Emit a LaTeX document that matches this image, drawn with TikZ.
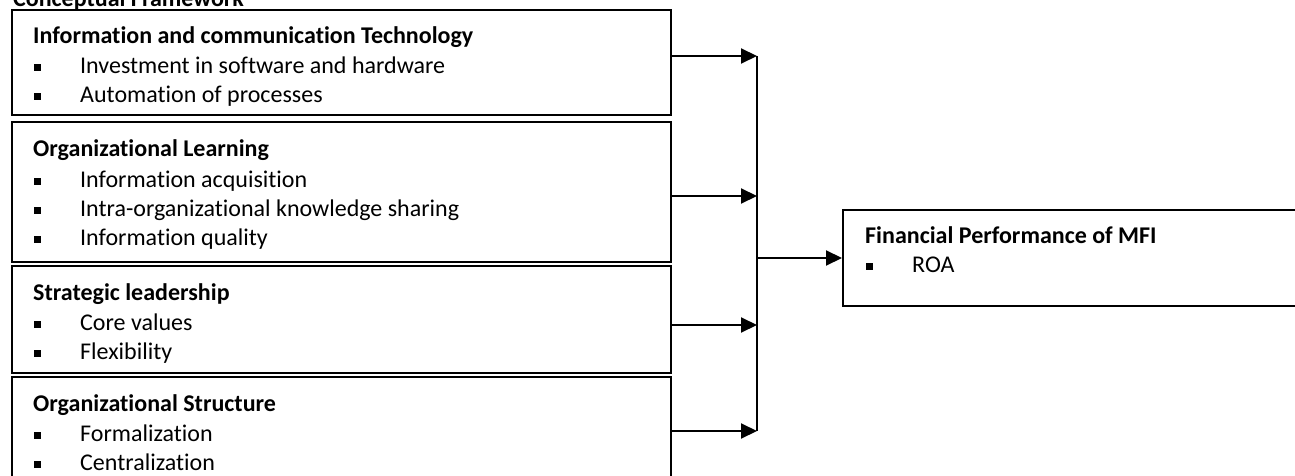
\documentclass[tikz,border=0pt]{standalone}
\usepackage{fontspec}
\setmainfont[Ligatures={NoCommon,NoContextual}]{Carlito}
\usetikzlibrary{arrows.meta}
\newcommand{\bul}{\makebox[46pt][l]{\rule[2.5pt]{7pt}{7pt}}}
\begin{document}
\begin{tikzpicture}[x=1pt,y=-1pt,
  box/.style={draw,line width=2pt,rectangle,inner sep=0pt},
  ttl/.style={anchor=base west,inner sep=0pt,font=\fontsize{24}{29}\selectfont\bfseries},
  itm/.style={anchor=base west,inner sep=0pt,font=\fontsize{24}{29}\selectfont},
  arr/.style={line width=2pt,-{Triangle[length=16pt,width=15pt]}},
  bus/.style={line width=1.6pt}]
\useasboundingbox (0,0) rectangle (1295,476);
\clip (0,0) rectangle (1295,476);
\fill[white] (0,0) rectangle (1295,476);

% header (cut off at top)
\node[ttl] (hdr) at (13,7) {Conceptual Framework};

% boxes
\node[box,minimum width=659pt,minimum height=105pt] (b1) at (341.5,62.5) {};
\node[box,minimum width=659pt,minimum height=140pt] (b2) at (341.5,192) {};
\node[box,minimum width=659pt,minimum height=107pt] (b3) at (341.5,319.5) {};
\node[box,minimum width=659pt,minimum height=133pt] (b4) at (341.5,443.5) {};
\node[box,minimum width=487pt,minimum height=96pt] (r) at (1086.5,258) {};

% box 1
\node[ttl] (t1) at (33,44) {Information and communication Technology};
\node[itm] (i11) at (34,74) {\bul Investment in software and hardware};
\node[itm] (i12) at (34,103) {\bul Automation of processes};
% box 2
\node[ttl] (t2) at (33,157) {Organizational Learning};
\node[itm] (i21) at (34,187) {\bul Information acquisition};
\node[itm] (i22) at (34,216) {\bul Intra-organizational knowledge sharing};
\node[itm] (i23) at (34,245) {\bul Information quality};
% box 3
\node[ttl] (t3) at (33,300) {Strategic leadership};
\node[itm] (i31) at (34,330) {\bul Core values};
\node[itm] (i32) at (34,359) {\bul Flexibility};
% box 4
\node[ttl] (t4) at (33,411) {Organizational Structure};
\node[itm] (i41) at (34,441) {\bul Formalization};
\node[itm] (i42) at (34,470) {\bul Centralization};
% right box
\node[ttl] (tr) at (865,243) {Financial Performance of MFI};
\node[itm] (ir) at (866,272) {\bul ROA};

% connectors
\coordinate (j1) at (757,56);
\coordinate (j2) at (757,196);
\coordinate (j3) at (757,325);
\coordinate (j4) at (757,431);
\coordinate (jm) at (757,258);
\draw[arr] (b1.east |- j1) -- (j1);
\draw[arr] (b2.east |- j2) -- (j2);
\draw[arr] (b3.east |- j3) -- (j3);
\draw[arr] (b4.east |- j4) -- (j4);
\draw[bus] (j1) -- (j4);
\draw[arr] (jm) -- (r.west |- jm);
\end{tikzpicture}
\end{document}
